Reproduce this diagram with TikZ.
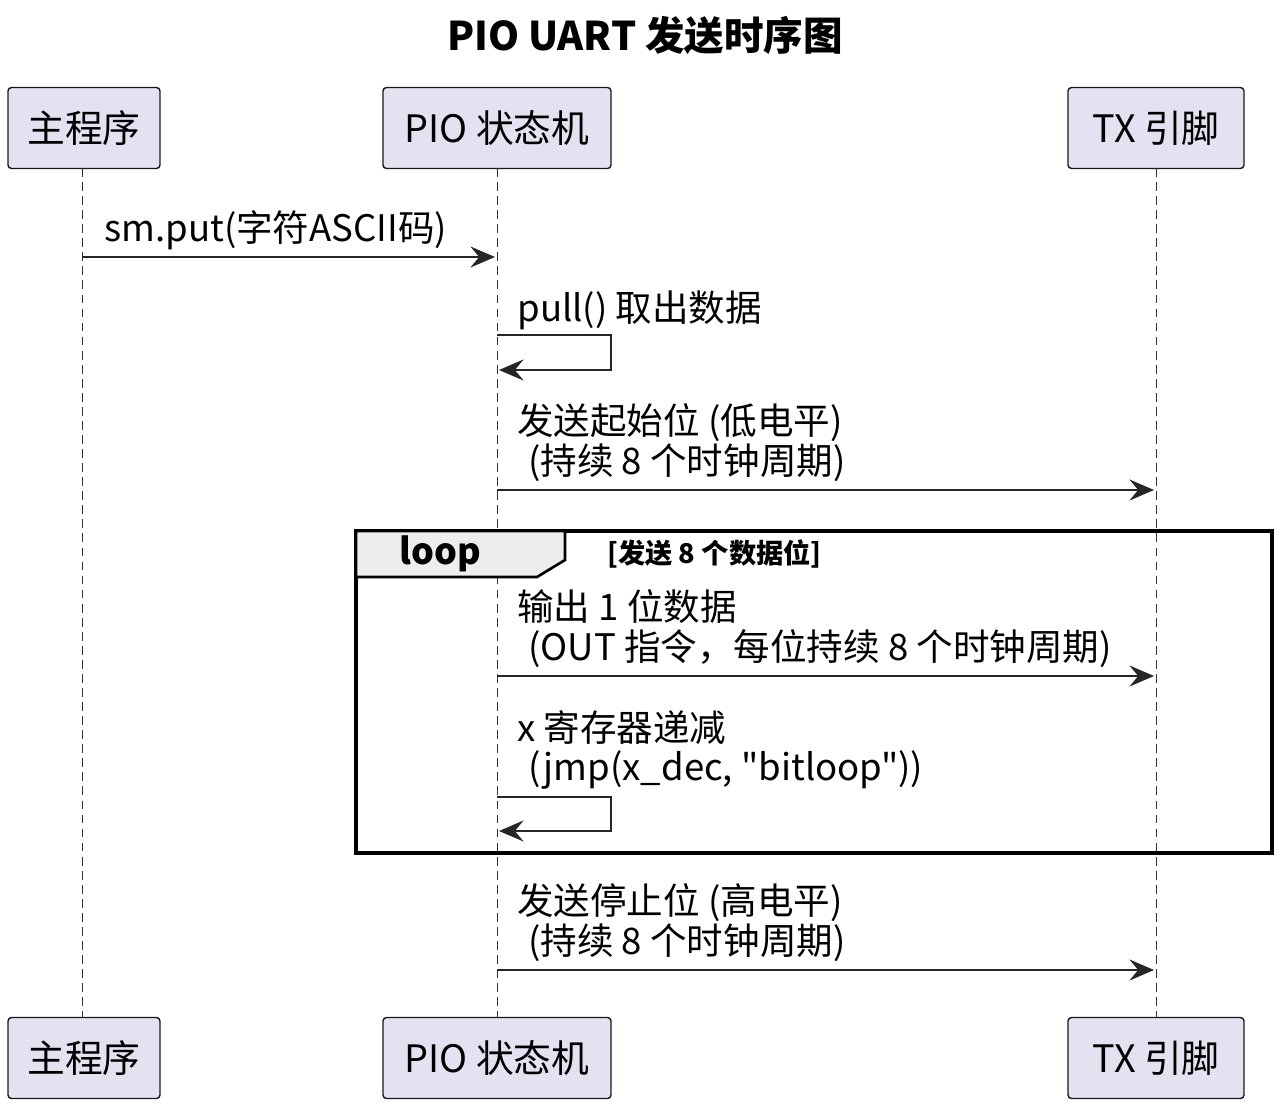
\documentclass[tikz,border=0pt]{standalone}
\usepackage{fontspec}
\setmainfont{Noto Sans CJK SC}[Ligatures=TeXReset]
\usetikzlibrary{arrows.meta}
\begin{document}
\begin{tikzpicture}[x=0.02cm,y=-0.02cm]
	\tikzset{part/.style={draw=black!90, fill={rgb,255:red,226;green,226;blue,240}, rounded corners=2pt, line width=0.8pt, font=\fontsize{21.5}{24}\selectfont},
		life/.style={dash pattern=on 5pt off 3pt, line width=0.5pt, black!80},
		msg/.style={-{Stealth[length=14pt,width=12pt,inset=5pt]}, line width=1.1pt, black!85},
		lbl/.style={anchor=west, align=left, font=\fontsize{20.8}{22.7}\selectfont, inner sep=0pt}};
	\useasboundingbox (0,0) rectangle (1280,1108);

	\node[font=\bfseries\fontsize{22.5}{26}\selectfont] (title) at (645,35) {PIO UART 发送时序图};

	% participants
	\node[part, minimum width=152*0.02cm, minimum height=81*0.02cm] (main) at (84,128) {主程序};
	\node[part, minimum width=228*0.02cm, minimum height=81*0.02cm] (pio) at (497,128) {PIO 状态机};
	\node[part, minimum width=176*0.02cm, minimum height=81*0.02cm] (tx) at (1156,128) {TX 引脚};
	\node[part, minimum width=152*0.02cm, minimum height=81*0.02cm] (mainb) at (84,1058) {主程序};
	\node[part, minimum width=228*0.02cm, minimum height=81*0.02cm] (piob) at (497,1058) {PIO 状态机};
	\node[part, minimum width=176*0.02cm, minimum height=81*0.02cm] (txb) at (1156,1058) {TX 引脚};

	\draw[life] (82,168) -- (82,1017);
	\draw[life] (497,168) -- (497,1017);
	\draw[life] (1156,168) -- (1156,1017);

	% loop frame
	\draw[line width=2.2pt] (356,531) rectangle (1272,853);
	\draw[line width=1.5pt, fill=black!7] (356,531) -- (565,531) -- (565,560) -- (537,577) -- (356,577) -- cycle;
	\node[font=\bfseries\fontsize{20.5}{24}\selectfont] (loop) at (440,554) {loop};
	\node[lbl, font=\bfseries\fontsize{15.5}{18}\selectfont] (guard) at (607,554) {[发送 8 个数据位]};

	% messages
	\coordinate (a1) at (82,257); \coordinate (a2) at (495,257);
	\draw[msg] (a1) -- (a2);
	\node[lbl] (m1) at (104,230) {sm.put(字符ASCII码)};

	\coordinate (s1) at (497,335); \coordinate (s2) at (499,370);
	\draw[msg] (s1) -- (611,335) -- (611,370) -- (s2);
	\node[lbl] (m2) at (517,310) {pull() 取出数据};

	\coordinate (b1) at (497,490); \coordinate (b2) at (1154,490);
	\draw[msg] (b1) -- (b2);
	\node[lbl] (m3) at (517,443) {发送起始位 (低电平)\\\hspace*{0.3em}(持续 8 个时钟周期)};

	\coordinate (c1) at (497,676); \coordinate (c2) at (1154,676);
	\draw[msg] (c1) -- (c2);
	\node[lbl] (m4) at (517,629) {输出 1 位数据\\\hspace*{0.3em}(OUT 指令，每位持续 8 个时钟周期)};

	\coordinate (d1) at (497,797); \coordinate (d2) at (499,831);
	\draw[msg] (d1) -- (611,797) -- (611,831) -- (d2);
	\node[lbl] (m5) at (517,750) {x 寄存器递减\\\hspace*{0.3em}(jmp(x\_dec, "bitloop"))};

	\coordinate (e1) at (497,970); \coordinate (e2) at (1154,970);
	\draw[msg] (e1) -- (e2);
	\node[lbl] (m6) at (517,923) {发送停止位 (高电平)\\\hspace*{0.3em}(持续 8 个时钟周期)};
\end{tikzpicture}
\end{document}
